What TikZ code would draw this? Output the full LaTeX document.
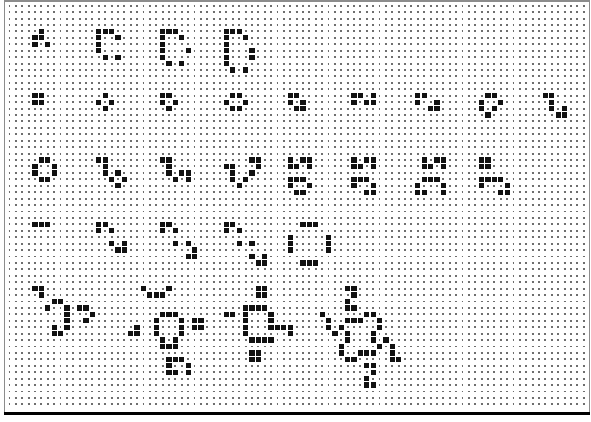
\documentclass[tikz,border=0pt]{standalone}
\usepackage{xcolor}
\definecolor{grid-dot}{HTML}{6E6E6E}
\definecolor{frame-gray}{HTML}{8C8C8C}
\definecolor{live}{HTML}{111111}

\begin{document}
\begin{tikzpicture}[x=1pt, y=-1pt,
    alive/.style={fill=live},
    dotrow/.style={grid-dot, line width=1.9pt, dash pattern=on 1.9pt off 4.48pt}]
  \useasboundingbox (0,0) rectangle (591,422);
  \fill[white] (0,0) rectangle (591,422);
  \draw[frame-gray, line width=1.6pt] (4.6,413) -- (4.6,1.2) -- (589.6,1.2) -- (589.6,413);
  \draw[black, line width=2.6pt] (3.8,413.6) -- (590.4,413.6);
  \begin{scope}[shift={(9.5,5.7)}, x=6.38pt, y=-6.43pt]
    \foreach \row in {0,...,62}
      \draw[dotrow] (-0.149,\row) -- (90.2,\row);
    % top row
    \foreach \col/\row in {5/4,4/5,5/5,4/6,6/6,
        14/4,15/4,16/4,14/5,17/5,14/6,14/7,15/8,17/8,
        24/4,25/4,26/4,24/5,27/5,24/6,24/7,28/7,24/8,25/9,27/9,
        34/4,35/4,36/4,34/5,37/5,34/6,34/7,38/7,34/8,38/8,34/9,35/10,37/10}
      \fill[alive] (\col-0.41,\row-0.41) rectangle ++(0.82,0.82);
    % still lifes
    \foreach \col/\row in {4/14,5/14,4/15,5/15,
        15/14,14/15,16/15,15/16,
        24/14,25/14,24/15,26/15,25/16,
        35/14,36/14,34/15,37/15,35/16,36/16,
        44/14,45/14,44/15,46/15,45/16,46/16,
        54/14,55/14,57/14,54/15,56/15,57/15,
        64/14,65/14,64/15,67/15,66/16,67/16,
        75/14,76/14,74/15,77/15,74/16,76/16,75/17,
        84/14,85/14,85/15,85/16,87/16,86/17,87/17}
      \fill[alive] (\col-0.41,\row-0.41) rectangle ++(0.82,0.82);
    \foreach \col/\row in {5/24,6/24,4/25,7/25,4/26,7/26,5/27,6/27,
        14/24,15/24,15/25,15/26,17/26,16/27,18/27,17/28,
        24/24,25/24,25/25,25/26,27/26,28/26,26/27,28/27,
        38/24,39/24,34/25,35/25,39/25,35/26,38/26,35/27,37/27,36/28,
        44/24,46/24,47/24,44/25,45/25,47/25,44/27,45/27,46/27,44/28,47/28,45/29,46/29,
        54/24,56/24,57/24,54/25,55/25,57/25,54/27,55/27,56/27,54/28,57/28,56/29,57/29,
        65/24,67/24,68/24,65/25,66/25,68/25,65/27,66/27,67/27,64/28,68/28,64/29,65/29,68/29,
        74/24,75/24,74/25,75/25,74/27,75/27,76/27,77/27,74/28,78/28,77/29,78/29}
      \fill[alive] (\col-0.41,\row-0.41) rectangle ++(0.82,0.82);
    % oscillators
    \foreach \col/\row in {4/34,5/34,6/34,
        14/34,15/34,14/35,16/35,16/37,18/37,17/38,18/38,
        24/34,25/34,24/35,26/35,26/37,28/37,29/38,28/39,29/39,
        34/34,35/34,34/35,36/35,36/37,38/37,38/39,40/39,39/40,40/40,
        46/34,47/34,48/34,44/36,44/37,44/38,50/36,50/37,50/38,46/40,47/40,48/40}
      \fill[alive] (\col-0.41,\row-0.41) rectangle ++(0.82,0.82);
    % bottom row
    \foreach \col/\row in {4/44,5/44,5/45,7/46,8/46,6/47,9/47,11/47,12/47,
        9/48,13/48,9/49,12/49,7/50,9/50,7/51,8/51,
        21/44,25/44,22/45,23/45,24/45,24/48,25/48,26/48,23/49,27/49,29/49,30/49,
        20/50,23/50,27/50,29/50,30/50,19/51,20/51,23/51,27/51,
        24/52,26/52,24/53,25/53,26/53,25/55,26/55,27/55,25/56,28/56,25/57,26/57,28/57,
        39/44,40/44,39/45,40/45,37/47,38/47,39/47,40/47,34/48,35/48,37/48,41/48,
        37/49,41/49,37/50,41/50,42/50,43/50,44/50,37/51,44/51,
        38/52,39/52,40/52,41/52,38/54,39/54,38/55,39/55,
        53/44,54/44,54/45,53/46,53/47,54/47,49/48,56/48,57/48,
        50/49,53/49,54/49,55/49,58/49,50/50,52/50,58/50,51/51,53/51,57/51,
        53/52,57/52,59/52,52/53,58/53,60/53,52/54,55/54,56/54,57/54,60/54,
        53/55,54/55,60/55,61/55,56/56,57/56,57/57,56/58,56/59,57/59}
      \fill[alive] (\col-0.41,\row-0.41) rectangle ++(0.82,0.82);
  \end{scope}
\end{tikzpicture}
\end{document}
